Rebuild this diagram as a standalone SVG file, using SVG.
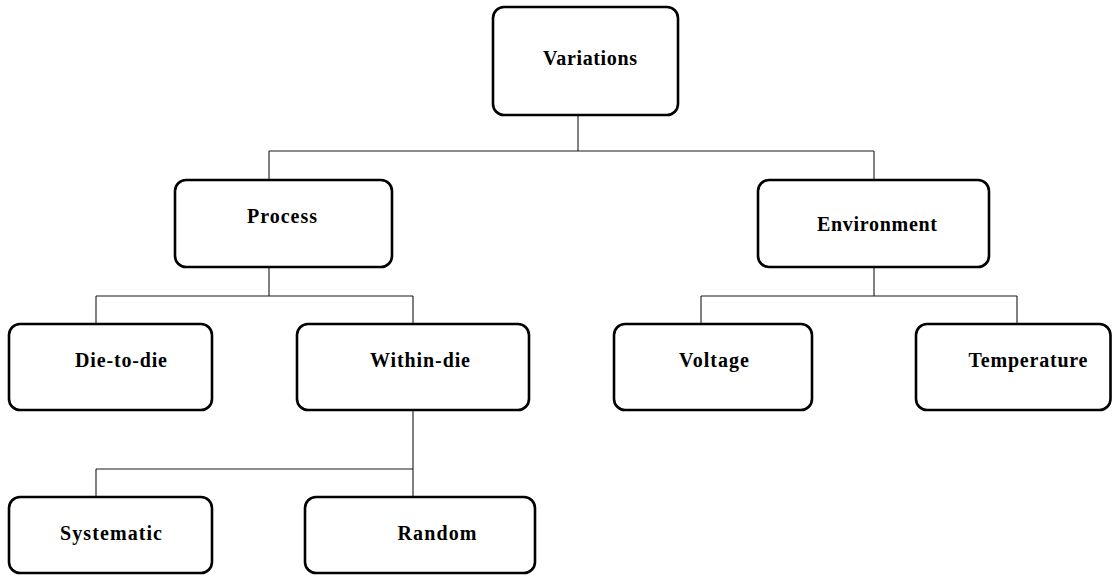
<svg xmlns="http://www.w3.org/2000/svg" width="1112" height="575" viewBox="0 0 1112 575">
  <style>
    .box { fill: #ffffff; stroke: #000000; stroke-width: 2.6; }
    .lbl { font-family: "Liberation Serif", "DejaVu Serif", serif; font-weight: bold; font-size: 20px; fill: #000000; text-anchor: middle; }
    .wire { fill: none; stroke: #1a1a1a; stroke-width: 1.1; }
  </style>
  <rect width="1112" height="575" fill="#ffffff"/>

  <!-- tree connectors -->
  <g id="connectors">
    <path class="wire" d="M578 115 V151 M269 151 H874 M269 151 V180 M874 151 V180"/>
    <path class="wire" d="M269 267 V296 M96 296 H413 M96 296 V324 M413 296 V324"/>
    <path class="wire" d="M874 267 V296 M701 296 H1017 M701 296 V324 M1017 296 V324"/>
    <path class="wire" d="M413 410 V469 M96 469 H413 M96 469 V497 M413 469 V497"/>
  </g>

  <g id="variations">
    <rect class="box" x="493" y="7" width="185" height="108" rx="11"/>
    <text class="lbl" x="590" y="65" textLength="94" lengthAdjust="spacing">Variations</text>
  </g>
  <g id="process">
    <rect class="box" x="175" y="180" width="217" height="87" rx="11"/>
    <text class="lbl" x="282" y="223" textLength="70" lengthAdjust="spacing">Process</text>
  </g>
  <g id="environment">
    <rect class="box" x="758" y="180" width="231" height="87" rx="11"/>
    <text class="lbl" x="877" y="231" textLength="120" lengthAdjust="spacing">Environment</text>
  </g>
  <g id="die-to-die">
    <rect class="box" x="9" y="324" width="203" height="86" rx="11"/>
    <text class="lbl" x="121" y="367" textLength="92" lengthAdjust="spacing">Die-to-die</text>
  </g>
  <g id="within-die">
    <rect class="box" x="297" y="324" width="232" height="86" rx="11"/>
    <text class="lbl" x="420" y="367" textLength="100" lengthAdjust="spacing">Within-die</text>
  </g>
  <g id="voltage">
    <rect class="box" x="614" y="324" width="198" height="86" rx="11"/>
    <text class="lbl" x="714" y="367" textLength="70" lengthAdjust="spacing">Voltage</text>
  </g>
  <g id="temperature">
    <rect class="box" x="916" y="324" width="194.5" height="86" rx="11"/>
    <text class="lbl" x="1028" y="367" textLength="119" lengthAdjust="spacing">Temperature</text>
  </g>
  <g id="systematic">
    <rect class="box" x="9" y="497" width="203" height="76" rx="11"/>
    <text class="lbl" x="111" y="540" textLength="102" lengthAdjust="spacing">Systematic</text>
  </g>
  <g id="random">
    <rect class="box" x="305" y="497" width="230" height="76" rx="11"/>
    <text class="lbl" x="437" y="540" textLength="79" lengthAdjust="spacing">Random</text>
  </g>
</svg>
